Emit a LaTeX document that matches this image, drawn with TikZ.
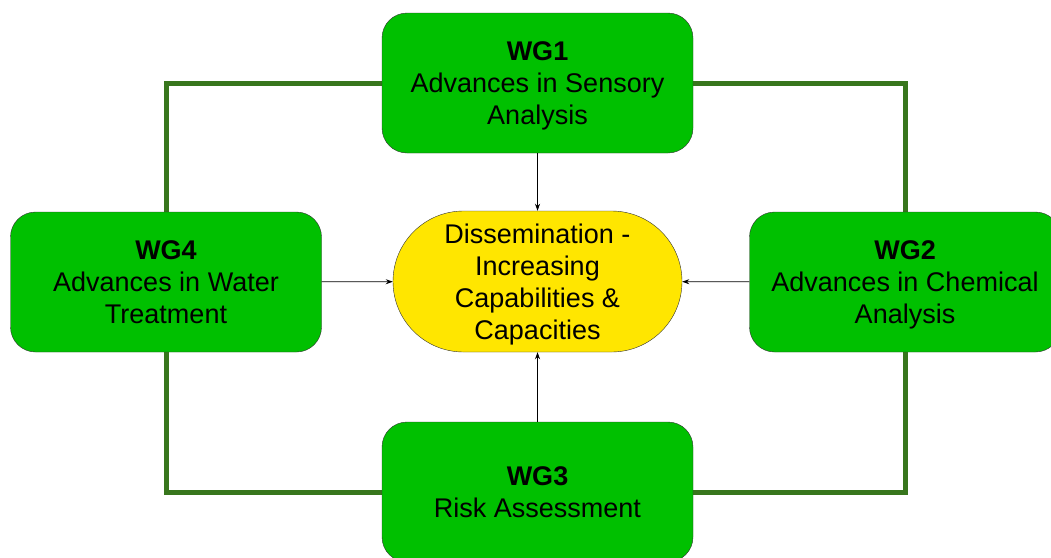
\documentclass[tikz,border=0pt]{standalone}
\usepackage{fontspec}
\setmainfont{Liberation Sans}
\usetikzlibrary{shapes.misc}
\usetikzlibrary{arrows.meta,backgrounds,positioning}
\definecolor{wggreen}{HTML}{00C000}
\definecolor{framegreen}{HTML}{38761D}
\definecolor{dissyellow}{HTML}{FFE600}
\tikzset{wg node/.style={rectangle, draw=black!80, fill=wggreen,
    rounded corners=25pt, minimum width=311pt, minimum height=140pt,
    inner sep=0pt, text depth=0pt, align=center, font=\fontsize{27}{32}\selectfont}}
\tikzset{dissemination node/.style={wg node, rounded rectangle, rounded corners=0pt,
    fill=dissyellow, minimum width=289pt, minimum height=141pt}}
\tikzset{frame edge/.style={draw=framegreen, line width=5pt}}
\tikzset{feed edge/.style={draw=black, line width=0.8pt, -{Stealth[length=7pt, width=5pt]}}}

\begin{document}
\begin{tikzpicture}
  [x=1pt, y=-1pt]
  \useasboundingbox (0,0) rectangle (1051,557);

  \node [dissemination node] (diss) at (537.5, 281.5) {Dissemination -\\Increasing\\Capabilities \&\\Capacities};
  \node [wg node]            (wg1)  at (537.5,  83)   {\textbf{WG1}\\Advances in Sensory\\Analysis};
  \node [wg node]            (wg2)  at (905,   282)   {\textbf{WG2}\\Advances in Chemical\\Analysis};
  \node [wg node]            (wg3)  at (537.5, 492)   {\textbf{WG3}\\Risk Assessment};
  \node [wg node]            (wg4)  at (166,   282)   {\textbf{WG4}\\Advances in Water\\Treatment};

  \begin{scope}[on background layer]
    \draw [frame edge] (wg1.west) -| (wg4.north);
    \draw [frame edge] (wg1.east) -| (wg2.north);
    \draw [frame edge] (wg4.south) |- (wg3.west);
    \draw [frame edge] (wg2.south) |- (wg3.east);
  \end{scope}

  \draw [feed edge] (wg1) -- (diss);
  \draw [feed edge] (wg2) -- (diss);
  \draw [feed edge] (wg3) -- (diss);
  \draw [feed edge] (wg4) -- (diss);
\end{tikzpicture}
\end{document}
